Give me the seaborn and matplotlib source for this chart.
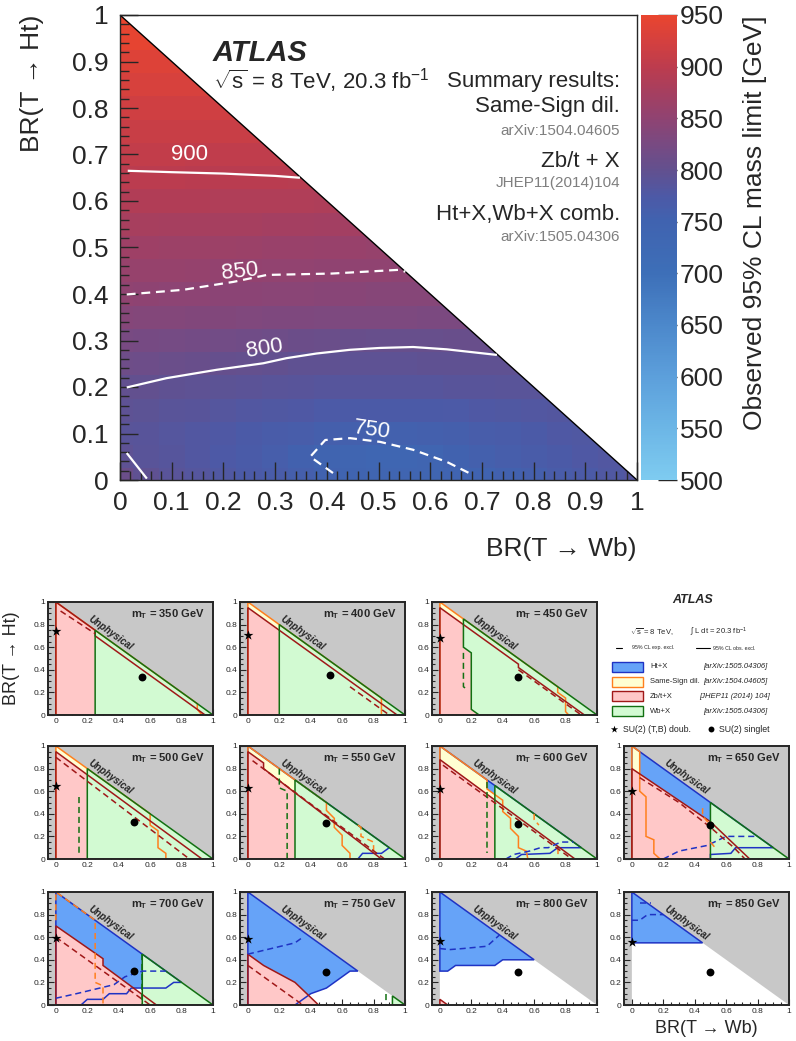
import numpy as np
import pandas as pd
import matplotlib
matplotlib.use("Agg")
import matplotlib.pyplot as plt
import seaborn as sns
from matplotlib.colors import LinearSegmentedColormap
from matplotlib.patches import Polygon, Rectangle
from matplotlib.ticker import MultipleLocator, FuncFormatter

# ---------------- data: top summary map ----------------
# row k : BR(T->Ht) = 0.05*k ; entries for BR(T->Wb) = 0, 0.05, ... up to 1-0.05k
MASS_LIMIT_ROWS = [
    [808, 797, 790, 784, 778, 772, 766, 760, 753, 747, 743, 741, 742, 745, 749, 754, 760, 766, 772, 778, 784],
    [795, 790, 785, 780, 775, 769, 762, 754, 747, 742, 739, 739, 744, 752, 758, 763, 768, 772, 776, 780],
    [790, 788, 784, 780, 776, 772, 768, 764, 760, 757, 755, 755, 757, 760, 764, 768, 772, 776, 779],
    [795, 793, 790, 787, 784, 781, 778, 776, 774, 772, 771, 771, 772, 774, 776, 778, 780, 782],
    [800, 799, 797, 795, 793, 791, 789, 787, 786, 785, 785, 785, 786, 787, 788, 789, 790],
    [814, 812, 809, 806, 803, 801, 799, 797, 796, 795, 795, 795, 796, 797, 797, 797],
    [825, 823, 821, 819, 817, 815, 813, 811, 809, 807, 805, 805, 805, 806, 806],
    [838, 837, 836, 835, 834, 833, 832, 831, 830, 830, 829, 829, 828, 827],
    [850, 849, 848, 847, 846, 845, 844, 843, 842, 842, 841, 841, 840],
    [858, 857, 857, 856, 855, 854, 853, 852, 851, 850, 850, 849],
    [866, 866, 865, 865, 864, 863, 862, 861, 860, 860, 858],
    [877, 877, 876, 876, 875, 875, 874, 873, 872, 872],
    [888, 888, 887, 887, 886, 886, 885, 885, 884],
    [898, 898, 898, 897, 897, 896, 896, 895],
    [905, 905, 905, 904, 904, 903, 903],
    [913, 913, 913, 913, 912, 912],
    [920, 920, 920, 920, 920],
    [928, 928, 928, 928],
    [935, 935, 935],
    [945, 945],
    [950],
]
CBAR_TICKS = [500, 550, 600, 650, 700, 750, 800, 850, 900, 950]

# contour lines (BR(Wb), BR(Ht))
C900_X = [0.015, 0.10, 0.20, 0.30, 0.348]
C900_Y = [0.665, 0.662, 0.659, 0.654, 0.650]
C850_X = [0.013, 0.122, 0.219, 0.284, 0.41, 0.54, 0.552]
C850_Y = [0.399, 0.409, 0.426, 0.441, 0.444, 0.452, 0.448]
C800_X = [0.013, 0.09, 0.187, 0.277, 0.322, 0.38, 0.445, 0.503, 0.567, 0.632, 0.729]
C800_Y = [0.199, 0.219, 0.237, 0.251, 0.262, 0.272, 0.280, 0.284, 0.286, 0.281, 0.269]
C800B_X = [0.013, 0.052]
C800B_Y = [0.058, 0.003]
C750_X = [0.412, 0.368, 0.397, 0.445, 0.503, 0.567, 0.632, 0.677]
C750_Y = [0.015, 0.050, 0.086, 0.090, 0.082, 0.065, 0.039, 0.014]

# ---------------- data: mass panels ----------------
MASSES = [350, 400, 450, 500, 550, 600, 650, 700, 750, 800, 850]

HTX_OBS = {
    550: [(0, 0), (0.70, 0), (0.73, 0.05), (0.85, 0.05), (0.9, 0.1), (0, 1)],
    600: [(0, 0), (0.48, 0), (0.52, 0.04), (0.7, 0.05), (0.75, 0.1), (0.9, 0.1), (0, 1)],
    650: [(0, 0), (0.5, 0), (0.5, 0.04), (0.63, 0.05), (0.66, 0.1), (0.9, 0.1), (0, 1)],
    700: [(0, 0), (0.16, 0), (0.2, 0.05), (0.3, 0.05), (0.34, 0.1), (0.45, 0.1), (0.48, 0.15),
          (0.7, 0.15), (0.75, 0.2), (0.8, 0.2), (0, 1)],
    750: [(0, 0), (0.3, 0), (0.35, 0.05), (0.4, 0.1), (0.5, 0.15), (0.55, 0.2), (0.6, 0.25),
          (0.65, 0.3), (0.7, 0.3), (0, 1)],
    800: [(0, 0.3), (0.05, 0.3), (0.1, 0.35), (0.35, 0.35), (0.4, 0.4), (0.6, 0.4), (0, 1)],
    850: [(0, 0.55), (0.45, 0.55), (0, 1)],
}
HTX_EXP = {
    600: [[(0.42, 0.0), (0.47, 0.04), (0.57, 0.07), (0.64, 0.1), (0.69, 0.1), (0.77, 0.15), (0.85, 0.15)]],
    650: [[(0.2, 0.0), (0.3, 0.07), (0.48, 0.12), (0.6, 0.2), (0.8, 0.2)]],
    700: [[(0, 0.06), (0.13, 0.1), (0.28, 0.15), (0.37, 0.18), (0.44, 0.25), (0.55, 0.3), (0.7, 0.3)]],
    750: [[(0, 0.45), (0.15, 0.5), (0.3, 0.55), (0.35, 0.6)]],
    800: [[(0, 0.5), (0.06, 0.49), (0.15, 0.5), (0.3, 0.52), (0.38, 0.62)]],
    850: [[(0, 0.75), (0.05, 0.75), (0.1, 0.8), (0.2, 0.8)], [(0.05, 0.9), (0.12, 0.9)]],
}
SS_OBS = {
    350: [(0, 0), (0, 1), (0.9, 0.1), (0.9, 0.05), (0.93, 0)],
    400: [(0, 0), (0, 1), (0.85, 0.15), (0.85, 0)],
    450: [(0, 0), (0, 1), (0.75, 0.25), (0.75, 0.2), (0.8, 0.15), (0.8, 0.03), (0.82, 0)],
    500: [(0, 0), (0, 1), (0.6, 0.4), (0.6, 0.3), (0.65, 0.25), (0.65, 0.1), (0.7, 0.05), (0.7, 0)],
    550: [(0, 0), (0, 1), (0.5, 0.5), (0.5, 0.43), (0.55, 0.36), (0.55, 0.28), (0.6, 0.21),
          (0.6, 0.12), (0.65, 0.05), (0.65, 0)],
    600: [(0, 0), (0, 1), (0.3, 0.7), (0.3, 0.62), (0.4, 0.52), (0.4, 0.42), (0.45, 0.36),
          (0.45, 0.27), (0.5, 0.2), (0.5, 0.1), (0.55, 0.07), (0.56, 0)],
    650: [(0, 0), (0, 1), (0.05, 0.95), (0.05, 0.6), (0.09, 0.55), (0.09, 0.2), (0.14, 0.17),
          (0.14, 0.05), (0.18, 0)],
}
SS_EXP = {
    550: [[(0.7, 0.3), (0.72, 0.28), (0.72, 0.2), (0.8, 0.15), (0.8, 0.05)]],
    600: [[(0.6, 0.4), (0.6, 0.35), (0.63, 0.3)], [(0.75, 0.1), (0.75, 0.0)]],
    650: [[(0.45, 0.45), (0.45, 0.38), (0.5, 0.3)], [(0.5, 0.15), (0.53, 0.1)]],
    700: [[(0, 0.75), (0, 1), (0.25, 0.75), (0.25, 0.2), (0.3, 0.17), (0.3, 0)]],
}
ZB_OBS = {
    350: [(0, 0), (0, 1), (0.25, 0.75), (0.25, 0.70), (0.95, 0)],
    400: [(0, 0), (0, 0.95), (0.95, 0)],
    450: [(0, 0), (0, 0.95), (0.5, 0.45), (0.5, 0.42), (0.92, 0)],
    500: [(0, 0), (0, 0.95), (0.93, 0)],
    550: [(0, 0), (0, 0.95), (0.1, 0.85), (0.1, 0.8), (0.85, 0)],
    600: [(0, 0), (0, 0.88), (0.86, 0)],
    650: [(0, 0), (0, 0.8), (0.5, 0.33), (0.75, 0)],
    700: [(0, 0), (0, 0.7), (0.3, 0.41), (0.3, 0.35), (0.64, 0)],
    750: [(0, 0), (0, 0.45), (0.1, 0.35), (0.3, 0.2), (0.45, 0)],
    800: [(0, 0), (0, 0.05), (0.05, 0)],
}
ZB_EXP = {
    350: [[(0.03, 0.92), (0.25, 0.72)]],
    400: [[(0.65, 0.25), (0.9, 0.0)]],
    450: [[(0.5, 0.4), (0.9, 0.0)]],
    500: [[(0.0, 0.9), (0.85, 0.0)]],
    550: [[(0.03, 0.87), (0.87, 0)]],
    600: [[(0.02, 0.83), (0.84, 0.0)]],
    650: [[(0.05, 0.72), (0.3, 0.5), (0.5, 0.28), (0.65, 0.1), (0.72, 0.0)]],
    700: [[(0, 0.6), (0.6, 0)]],
    750: [[(0, 0.35), (0.35, 0.0)]],
}
WB_OBS = {
    350: [(0.25, 0), (0.25, 0.75), (1, 0)],
    400: [(0.2, 0), (0.2, 0.8), (1, 0)],
    450: [(0.15, 0.85), (0.15, 0.6), (0.2, 0.55), (0.2, 0.05), (0.25, 0), (1, 0)],
    500: [(0.2, 0), (0.2, 0.8), (1, 0)],
    550: [(0.3, 0), (0.3, 0.7), (1, 0)],
    600: [(0.35, 0), (0.35, 0.65), (1, 0)],
    650: [(0.5, 0), (0.5, 0.5), (1, 0)],
    700: [(0.55, 0), (0.55, 0.45), (1, 0)],
    750: [(0.92, 0), (0.92, 0.08), (1, 0)],
}
WB_EXP = {
    450: [[(0.15, 0.55), (0.15, 0.25), (0.18, 0.22)]],
    500: [[(0.15, 0.55), (0.15, 0.05)]],
    550: [[(0.2, 0.8), (0.2, 0.63), (0.25, 0.6), (0.25, 0.0)]],
    600: [[(0.3, 0.68), (0.3, 0.05)]],
    700: [[(0.55, 0.45), (0.55, 0.0)]],
    750: [[(0.88, 0.1), (0.88, 0.0)]],
}
STAR_Y = [0.74, 0.71, 0.68, 0.65, 0.63, 0.62, 0.60, 0.59, 0.58, 0.57, 0.56]
SINGLET_X = [0.55, 0.52, 0.50, 0.50, 0.50, 0.50, 0.50, 0.50, 0.50, 0.50, 0.50]
SINGLET_Y = [0.34, 0.35, 0.34, 0.33, 0.32, 0.31, 0.30, 0.30, 0.29, 0.29, 0.29]

LEGEND_NAMES = ["Ht+X", "Same-Sign dil.", "Zb/t+X", "Wb+X"]
LEGEND_REFS = ["[arXiv:1505.04306]", "[arXiv:1504.04605]", "[JHEP11 (2014) 104]", "[arXiv:1505.04306]"]

# ---------------- style ----------------
sns.set_theme(style="ticks")
plt.rcParams['font.family'] = ['Liberation Sans', 'DejaVu Sans']
plt.rcParams['mathtext.fontset'] = 'custom'
plt.rcParams['mathtext.rm'] = 'Liberation Sans'
plt.rcParams['mathtext.it'] = 'Liberation Sans:italic'
plt.rcParams['mathtext.bf'] = 'Liberation Sans:bold'

BLUE_F, BLUE_E = "#66a3f8", "#1f33c4"
YEL_F, YEL_E = "#ffffd2", "#ff7f1e"
PINK_F, PINK_E = "#ffc8c8", "#a01818"
GREEN_F, GREEN_E = "#d2fad2", "#127012"
GRAY = "#c8c8c8"

cmap = LinearSegmentedColormap.from_list("atlas", [
    (0.0, "#7ecbf0"), (50/450, "#6cb6e6"), (100/450, "#5c9fdb"), (150/450, "#4c88cb"),
    (200/450, "#3d6fb8"), (250/450, "#4063b0"), (275/450, "#4d59a6"), (300/450, "#62508f"),
    (325/450, "#784a82"), (350/450, "#8f4372"), (375/450, "#a53f60"), (400/450, "#bc3c4e"),
    (425/450, "#d4403f"), (1.0, "#e9452f")])

W, H = 796, 1041
fig = plt.figure(figsize=(W / 100, H / 100), dpi=100)


def fbox(l, t, r, b):
    return [l / W, 1 - b / H, (r - l) / W, (b - t) / H]


# ---------------- top heat map ----------------
n = len(MASS_LIMIT_ROWS)
Z = np.full((n, n), np.nan)
for k, row in enumerate(MASS_LIMIT_ROWS):
    Z[k, :len(row)] = row
df = pd.DataFrame(Z)

ax_hm = fig.add_axes(fbox(120, 15, 637, 480))
cax = fig.add_axes(fbox(641, 15, 677, 480))
sns.heatmap(df, ax=ax_hm, cmap=cmap, vmin=500, vmax=950, cbar_ax=cax,
            xticklabels=False, yticklabels=False)
ax_hm.set_xlim(0.5, n - 0.5)
ax_hm.set_ylim(0.5, n - 0.5)
mesh = ax_hm.collections[0]
clip_tri = Polygon([(0.5, 0.5), (0.5, n - 0.5), (n - 0.5, 0.5)], closed=True,
                   transform=ax_hm.transData)
mesh.set_clip_path(clip_tri)
ax_hm.axis('off')

cbar = mesh.colorbar
cbar.set_ticks(CBAR_TICKS)
cbar.outline.set_visible(False)
cbar.ax.tick_params(direction='in', length=14, width=1, labelsize=19, right=True, left=False, pad=2)
cbar.set_label("Observed 95% CL mass limit [GeV]", fontsize=19, labelpad=14, loc='top')

ax = fig.add_axes(fbox(120, 15, 637, 480))
ax.patch.set_alpha(0)
ax.set_xlim(0, 1)
ax.set_ylim(0, 1)
ax.plot([0, 1], [1, 0], color='black', lw=1)
white_solid = dict(color='white', lw=1.6, solid_capstyle='butt')
white_dash = dict(color='white', lw=1.6, ls=(0, (4, 2.6)))
ax.plot(C900_X, C900_Y, **white_solid)
ax.plot(C850_X, C850_Y, **white_dash)
ax.plot(C800_X, C800_Y, **white_solid)
ax.plot(C800B_X, C800B_Y, **white_solid)
ax.plot(C750_X, C750_Y, **white_dash)
ax.text(0.135, 0.70, "900", color='white', fontsize=16, ha='center', va='center')
ax.text(0.232, 0.448, "850", color='white', fontsize=16, ha='center', va='center', rotation=6)
ax.text(0.28, 0.282, "800", color='white', fontsize=16, ha='center', va='center', rotation=9)
ax.text(0.487, 0.108, "750", color='white', fontsize=16, ha='center', va='center', rotation=-8)

ax.text(0.18, 0.918, "ATLAS", fontsize=21, fontweight='bold', fontstyle='italic', ha='left', va='center')
ax.text(0.18, 0.858, r"$\sqrt{\mathrm{s}}$ = 8 TeV, 20.3 fb$^{\mathregular{-1}}$", fontsize=16, ha='left', va='center')
RX = 0.967
ax.text(RX, 0.858, "Summary results:", fontsize=16, ha='right', va='center')
ax.text(RX, 0.804, "Same-Sign dil.", fontsize=16, ha='right', va='center')
ax.text(RX, 0.751, "arXiv:1504.04605", fontsize=11, color='#7f7f7f', ha='right', va='center')
ax.text(RX, 0.686, "Zb/t + X", fontsize=16, ha='right', va='center')
ax.text(RX, 0.638, "JHEP11(2014)104", fontsize=11, color='#7f7f7f', ha='right', va='center')
ax.text(RX, 0.570, "Ht+X,Wb+X comb.", fontsize=16, ha='right', va='center')
ax.text(RX, 0.522, "arXiv:1505.04306", fontsize=11, color='#7f7f7f', ha='right', va='center')

fmt_main = FuncFormatter(lambda v, p: ("%.1f" % v).rstrip('0').rstrip('.') if abs(v) > 1e-9 else "0")
for axis in (ax.xaxis, ax.yaxis):
    axis.set_major_locator(MultipleLocator(0.1))
    axis.set_minor_locator(MultipleLocator(0.02))
    axis.set_major_formatter(fmt_main)
ax.tick_params(which='major', direction='in', length=13, width=1, labelsize=19, pad=8,
               top=False, right=False)
ax.tick_params(which='minor', direction='in', length=6.5, width=1, top=False, right=False)
for s in ax.spines.values():
    s.set_linewidth(1)
ax.set_xlabel("BR(T → Wb)", fontsize=19, loc='right', labelpad=16)
ax.set_ylabel("BR(T → Ht)", fontsize=19, loc='top', labelpad=20)

# ---------------- mass panels ----------------
PANEL_POS = [(48, 602), (240, 602), (432, 602),
             (48, 746), (240, 746), (432, 746), (624, 746),
             (48, 892), (240, 892), (432, 892), (624, 892)]
PW, PH = 165, 113
LAYERS = [(HTX_OBS, HTX_EXP, BLUE_F, BLUE_E),
          (SS_OBS, SS_EXP, YEL_F, YEL_E),
          (ZB_OBS, ZB_EXP, PINK_F, PINK_E),
          (WB_OBS, WB_EXP, GREEN_F, GREEN_E)]
fmt_p = FuncFormatter(lambda v, p: ("%.1f" % v) if 1e-9 < abs(v) < 0.999 else ("%d" % round(v)))

for i, m in enumerate(MASSES):
    l, t = PANEL_POS[i]
    pax = fig.add_axes(fbox(l, t, l + PW, t + PH))
    pax.set_xlim(-0.05, 1)
    pax.set_ylim(0, 1)
    pax.set_facecolor(GRAY)
    pax.add_patch(Polygon([(0, 0), (0, 1), (1, 0)], closed=True, fc='white', ec='none', zorder=0.5))
    for j, (obs, exp, fc, ec) in enumerate(LAYERS):
        if m in obs:
            pax.add_patch(Polygon(obs[m], closed=True, fc=fc, ec='none', zorder=1 + j * 0.1))
    for j, (obs, exp, fc, ec) in enumerate(LAYERS):
        if m in obs:
            pax.add_patch(Polygon(obs[m], closed=True, fill=False, ec=ec, lw=1.1,
                                  zorder=3 + j * 0.1, joinstyle='miter'))
    for j, (obs, exp, fc, ec) in enumerate(LAYERS):
        for line in exp.get(m, []):
            xs, ys = zip(*line)
            pax.plot(xs, ys, color=ec, lw=1.1, ls=(0, (4, 2.5)), zorder=4 + j * 0.1)
    sns.scatterplot(x=[0.0], y=[STAR_Y[i]], marker='*', s=55, color='black',
                    linewidth=0, ax=pax, zorder=6)
    sns.scatterplot(x=[SINGLET_X[i]], y=[SINGLET_Y[i]], marker='o', s=32, color='black',
                    linewidth=0, ax=pax, zorder=6)
    pax.text(0.95, 0.89, r"m$_{\mathbf{T}}$ = %d GeV" % m, transform=pax.transAxes,
             fontsize=8, fontweight='bold', ha='right', va='center', zorder=7)
    pax.text(0.35, 0.725, "Unphysical", fontsize=7, fontweight='bold', fontstyle='italic',
             rotation=-35.7, rotation_mode='anchor', ha='center', va='center', zorder=7)
    for axis in (pax.xaxis, pax.yaxis):
        axis.set_major_locator(MultipleLocator(0.2))
        axis.set_minor_locator(MultipleLocator(0.05))
        axis.set_major_formatter(fmt_p)
    pax.tick_params(which='major', direction='in', length=4, width=0.8, labelsize=6, pad=2,
                    top=False, right=False)
    pax.tick_params(which='minor', direction='in', length=2, width=0.8, top=False, right=False)
    for s in pax.spines.values():
        s.set_linewidth(1.4)
        s.set_zorder(8)
    if i == 0:
        pax.set_ylabel("BR(T → Ht)", fontsize=13, labelpad=10)
    if i == len(MASSES) - 1:
        pax.set_xlabel("BR(T → Wb)", fontsize=13, labelpad=4)

# ---------------- legend block ----------------
lg = fig.add_axes(fbox(600, 590, 796, 740))
lg.set_xlim(600, 796)
lg.set_ylim(740, 590)
lg.axis('off')
lg.text(693, 600, "ATLAS", fontsize=9, fontweight='bold', fontstyle='italic', ha='center', va='center')
lg.text(630, 632, r"$\sqrt{\mathrm{s}}$ = 8 TeV,", fontsize=5.5, ha='left', va='center')
lg.text(690, 632, r"$\int$ L dt = 20.3 fb$^{\mathregular{-1}}$", fontsize=5.5, ha='left', va='center')
lg.plot([616, 622], [648, 648], color='black', lw=0.8)
lg.text(632, 648, "95% CL exp. excl.", fontsize=3.8, ha='left', va='center')
lg.plot([696, 710], [648, 648], color='black', lw=0.8)
lg.text(713, 648, "95% CL obs. excl.", fontsize=3.8, ha='left', va='center')
for j, (obs, exp, fc, ec) in enumerate(LAYERS):
    yc = 667 + j * 14.7
    lg.add_patch(Rectangle((612, yc - 5), 31, 10, fc=fc, ec=ec, lw=1))
    lg.text(650, yc, LEGEND_NAMES[j], fontsize=5.5, ha='left', va='center')
    lg.text(735, yc, LEGEND_REFS[j], fontsize=5.5, fontstyle='italic', ha='center', va='center')
sns.scatterplot(x=[614], y=[729], marker='*', s=30, color='black', linewidth=0, ax=lg)
lg.text(623, 729, "SU(2) (T,B) doub.", fontsize=6.3, ha='left', va='center')
sns.scatterplot(x=[711], y=[729], marker='o', s=18, color='black', linewidth=0, ax=lg)
lg.text(719, 729, "SU(2) singlet", fontsize=6.3, ha='left', va='center')

fig.savefig("out.png", dpi=100)
